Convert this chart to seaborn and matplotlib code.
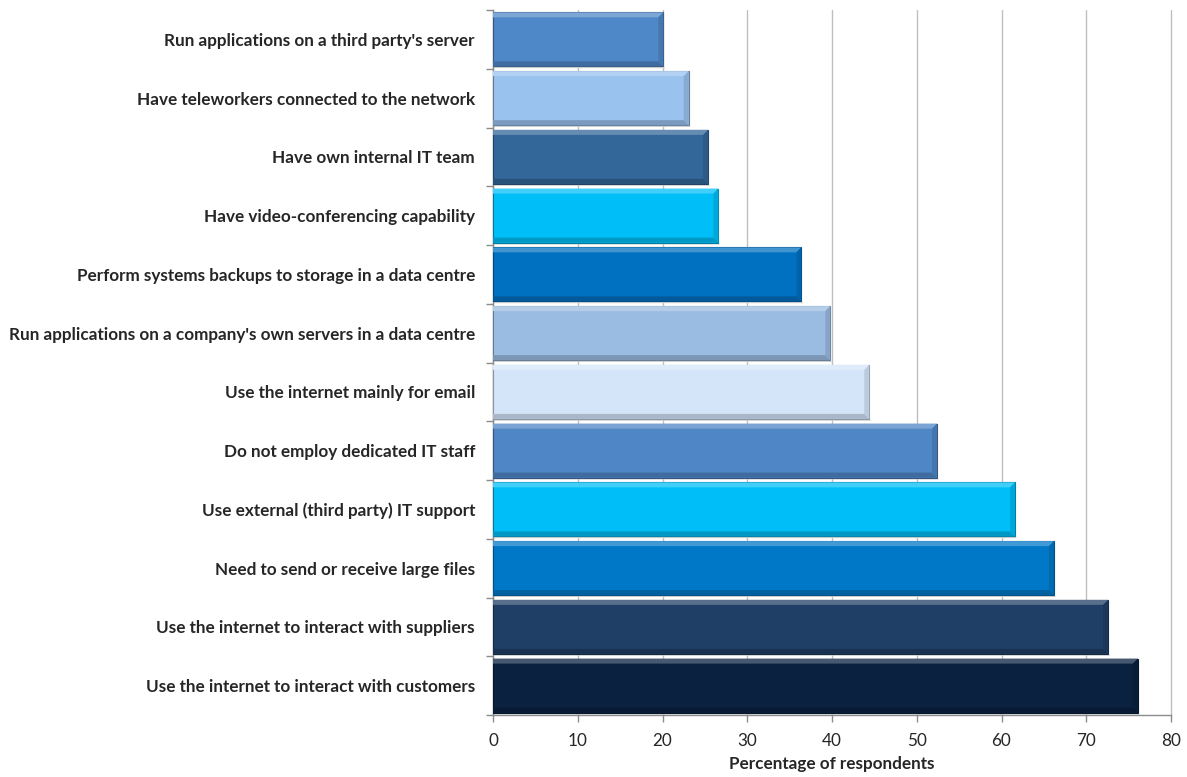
import matplotlib
matplotlib.use("Agg")
import matplotlib.pyplot as plt
import seaborn as sns
import pandas as pd
import numpy as np
from matplotlib.patches import Polygon
from matplotlib.colors import to_rgb

categories = [
    "Run applications on a third party's server",
    "Have teleworkers connected to the network",
    "Have own internal IT team",
    "Have video-conferencing capability",
    "Perform systems backups to storage in a data centre",
    "Run applications on a company's own servers in a data centre",
    "Use the internet mainly for email",
    "Do not employ dedicated IT staff",
    "Use external (third party) IT support",
    "Need to send or receive large files",
    "Use the internet to interact with suppliers",
    "Use the internet to interact with customers",
]
values = [20.1, 23.1, 25.4, 26.6, 36.4, 39.8, 44.4, 52.4, 61.6, 66.2, 72.6, 76.1]
colors = ["#4F88C8", "#99C2EE", "#336699", "#00BFF8", "#0070C0", "#9BBCE2",
          "#D4E5FA", "#4F86C6", "#00BFF8", "#0078C8", "#1F3F66", "#0A2140"]
xticks = [0, 10, 20, 30, 40, 50, 60, 70, 80]

sns.set_theme(style="white")
plt.rcParams['font.family'] = ['Lato', 'DejaVu Sans']

df = pd.DataFrame({"cat": categories, "val": values})
fig = plt.figure(figsize=(11.87, 7.77), dpi=100)
ax = fig.add_axes([493/1187, 1-715/777, 678/1187, 705/777])

sns.barplot(data=df, y="cat", x="val", hue="cat", palette=colors, legend=False,
            width=0.92, ax=ax, orient="h", saturation=1, zorder=3)

ax.set_xlim(0, 80)
ax.set_ylim(len(categories)-0.5, -0.5)
ax.set_xticks(xticks)
ax.xaxis.grid(True, color="#BFBFBF", linewidth=1, zorder=0)
ax.set_axisbelow(True)
for gl in ax.get_xgridlines():
    gl.set_clip_on(False)

# bevel effect derived from drawn bar patches
px_x = 679/80.0
px_y = 705/12.0
dx = 5/px_x
dy = 5/px_y
def shade(c, f):
    r, g, b = to_rgb(c)
    if f >= 0:
        return (r+(1-r)*f, g+(1-g)*f, b+(1-b)*f)
    return (r*(1+f), g*(1+f), b*(1+f))
for p, c in zip(list(ax.patches), colors):
    x0 = p.get_x(); w = p.get_width(); y0 = p.get_y(); h = p.get_height()
    x1 = x0 + w; yt = y0; yb = y0 + h
    p.set_edgecolor(shade(c, -0.35)); p.set_linewidth(0.8)
    ax.add_patch(Polygon([(x0, yb), (x1, yb), (x1+0.25, yb+0.03), (x0, yb+0.03)],
                         closed=True, facecolor="#D0D0D0", edgecolor="none", zorder=2))
    ax.add_patch(Polygon([(x0, yt), (x1, yt), (x1-dx, yt+dy), (x0, yt+dy)],
                         closed=True, facecolor=shade(c, 0.25), edgecolor="none", zorder=4))
    ax.add_patch(Polygon([(x0, yb), (x1, yb), (x1-dx, yb-dy), (x0, yb-dy)],
                         closed=True, facecolor=shade(c, -0.2), edgecolor="none", zorder=4))
    ax.add_patch(Polygon([(x1, yt), (x1, yb), (x1-dx, yb-dy), (x1-dx, yt+dy)],
                         closed=True, facecolor=shade(c, -0.12), edgecolor="none", zorder=4))

ax.set_ylabel("")
ax.set_xlabel("Percentage of respondents", fontsize=12.3, fontweight="bold", labelpad=5)
ax.tick_params(axis="y", length=0, pad=13, labelsize=12.3)
for t in ax.get_yticklabels():
    t.set_fontweight("bold")
ax.set_yticks(np.arange(-0.5, len(categories), 1.0), minor=True)
ax.tick_params(axis="y", which="minor", length=5, color="#8C8C8C", width=1, left=True)
ax.tick_params(axis="x", length=5, color="#8C8C8C", width=1, bottom=True, labelsize=12.3, pad=8)

for s in ["top", "right"]:
    ax.spines[s].set_visible(False)
for s in ["left", "bottom"]:
    ax.spines[s].set_color("#8C8C8C")
    ax.spines[s].set_linewidth(1)

fig.savefig("out.png", dpi=100)
